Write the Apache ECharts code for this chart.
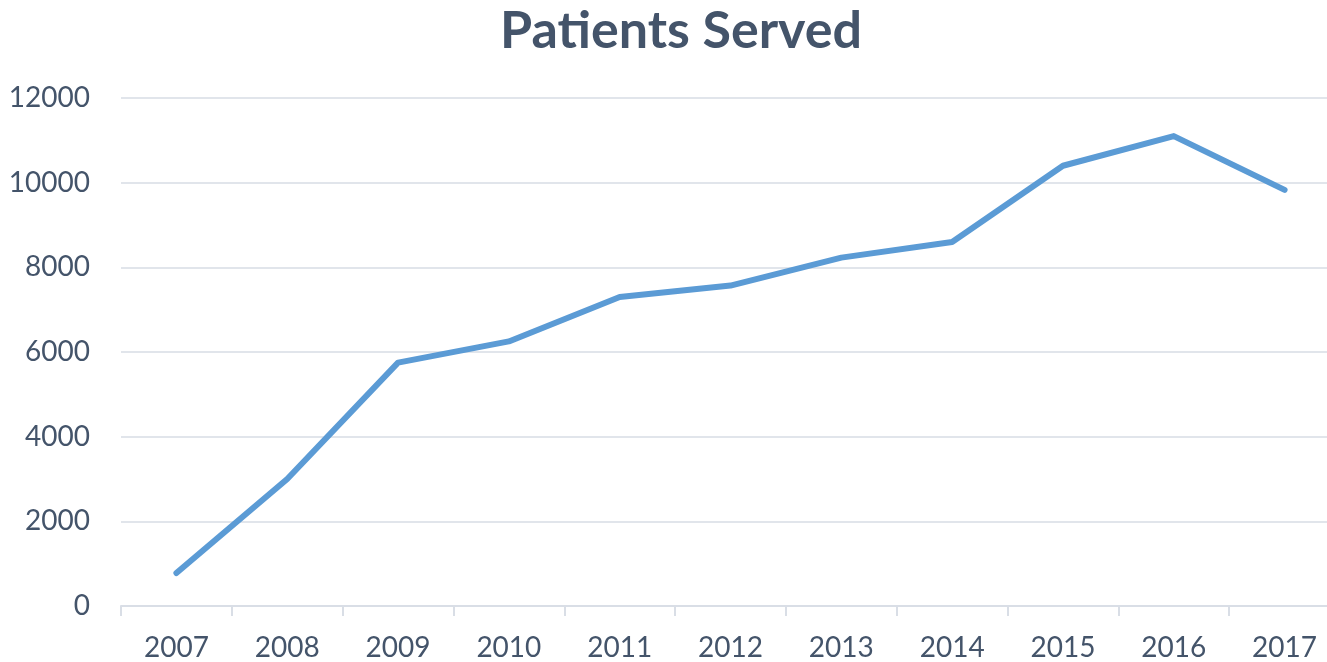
<!DOCTYPE html>
<html>
<head>
<meta charset="utf-8">
<script src="https://cdn.jsdelivr.net/npm/echarts@6/dist/echarts.min.js"></script>
<style>
html,body{margin:0;padding:0;background:#fff;overflow:hidden;width:1327px;height:662px;}
#chart{width:1340px;height:662px;}
</style>
</head>
<body>
<div id="chart"></div>
<script>
const title = "Patients Served";
const years = ["2007","2008","2009","2010","2011","2012","2013","2014","2015","2016","2017"];
const patients = [780, 3000, 5750, 6250, 7300, 7570, 8230, 8600, 10400, 11100, 9830];
const yTicks = { min: 0, max: 12000, interval: 2000 };

const chart = echarts.init(document.getElementById('chart'));
chart.setOption({
  backgroundColor: '#ffffff',
  animation: false,
  title: {
    text: title,
    left: 676,
    textAlign: 'center',
    top: 0,
    textStyle: { fontFamily: 'Lato', fontWeight: 'bold', fontSize: 52, color: '#44546A' }
  },
  grid: { left: 121, right: 0, top: 98, bottom: 55, containLabel: false },
  xAxis: {
    type: 'category',
    data: years,
    boundaryGap: true,
    axisLine: { lineStyle: { color: '#D9DEE6', width: 2 } },
    axisTick: { show: true, length: 10, lineStyle: { color: '#D9DEE6', width: 2 } },
    axisLabel: { color: '#44546A', fontFamily: 'Lato', fontSize: 28, margin: 28 }
  },
  yAxis: {
    type: 'value',
    min: yTicks.min, max: yTicks.max, interval: yTicks.interval,
    axisLine: { show: false },
    axisTick: { show: false },
    splitLine: { lineStyle: { color: '#E1E5EB', width: 2 } },
    axisLabel: { color: '#44546A', fontFamily: 'Lato', fontSize: 28, margin: 31, formatter: v => String(v) }
  },
  series: [{
    type: 'line',
    data: patients,
    symbol: 'none',
    lineStyle: { color: '#5B9BD5', width: 6, cap: 'round', join: 'round' }
  }]
});
</script>
</body>
</html>
